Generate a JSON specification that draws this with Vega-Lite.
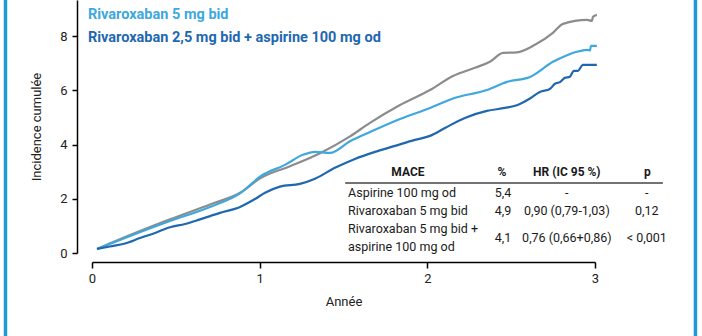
{
  "$schema": "https://vega.github.io/schema/vega-lite/v6.json",
  "width": 503,
  "height": 253,
  "autosize": {"type": "none"},
  "padding": {"left": 92, "top": 0, "right": 107, "bottom": 83},
  "background": "white",
  "config": {"view": {"stroke": null}, "font": "Roboto"},
  "datasets": {
    "curves": [
      {"series": "Aspirine 100 mg od", "t": 0.03, "v": 0.15},
      {"series": "Aspirine 100 mg od", "t": 0.227, "v": 0.66},
      {"series": "Aspirine 100 mg od", "t": 0.465, "v": 1.24},
      {"series": "Aspirine 100 mg od", "t": 0.704, "v": 1.79},
      {"series": "Aspirine 100 mg od", "t": 0.883, "v": 2.22},
      {"series": "Aspirine 100 mg od", "t": 1.008, "v": 2.77},
      {"series": "Aspirine 100 mg od", "t": 1.181, "v": 3.2},
      {"series": "Aspirine 100 mg od", "t": 1.36, "v": 3.68},
      {"series": "Aspirine 100 mg od", "t": 1.539, "v": 4.3},
      {"series": "Aspirine 100 mg od", "t": 1.658, "v": 4.8},
      {"series": "Aspirine 100 mg od", "t": 1.837, "v": 5.46},
      {"series": "Aspirine 100 mg od", "t": 2.016, "v": 6.01},
      {"series": "Aspirine 100 mg od", "t": 2.153, "v": 6.53},
      {"series": "Aspirine 100 mg od", "t": 2.284, "v": 6.83},
      {"series": "Aspirine 100 mg od", "t": 2.373, "v": 7.05},
      {"series": "Aspirine 100 mg od", "t": 2.451, "v": 7.38},
      {"series": "Aspirine 100 mg od", "t": 2.534, "v": 7.4},
      {"series": "Aspirine 100 mg od", "t": 2.642, "v": 7.68},
      {"series": "Aspirine 100 mg od", "t": 2.749, "v": 8.12},
      {"series": "Aspirine 100 mg od", "t": 2.809, "v": 8.45},
      {"series": "Aspirine 100 mg od", "t": 2.952, "v": 8.6},
      {"series": "Aspirine 100 mg od", "t": 2.982, "v": 8.56},
      {"series": "Aspirine 100 mg od", "t": 2.988, "v": 8.71},
      {"series": "Aspirine 100 mg od", "t": 3.011, "v": 8.78},
      {"series": "Rivaroxaban 5 mg bid", "t": 0.03, "v": 0.15},
      {"series": "Rivaroxaban 5 mg bid", "t": 0.227, "v": 0.63},
      {"series": "Rivaroxaban 5 mg bid", "t": 0.465, "v": 1.18},
      {"series": "Rivaroxaban 5 mg bid", "t": 0.704, "v": 1.7},
      {"series": "Rivaroxaban 5 mg bid", "t": 0.883, "v": 2.2},
      {"series": "Rivaroxaban 5 mg bid", "t": 1.008, "v": 2.84},
      {"series": "Rivaroxaban 5 mg bid", "t": 1.151, "v": 3.25},
      {"series": "Rivaroxaban 5 mg bid", "t": 1.258, "v": 3.62},
      {"series": "Rivaroxaban 5 mg bid", "t": 1.33, "v": 3.73},
      {"series": "Rivaroxaban 5 mg bid", "t": 1.419, "v": 3.69},
      {"series": "Rivaroxaban 5 mg bid", "t": 1.539, "v": 4.12},
      {"series": "Rivaroxaban 5 mg bid", "t": 1.658, "v": 4.46},
      {"series": "Rivaroxaban 5 mg bid", "t": 1.837, "v": 4.94},
      {"series": "Rivaroxaban 5 mg bid", "t": 2.016, "v": 5.35},
      {"series": "Rivaroxaban 5 mg bid", "t": 2.153, "v": 5.7},
      {"series": "Rivaroxaban 5 mg bid", "t": 2.355, "v": 6.01},
      {"series": "Rivaroxaban 5 mg bid", "t": 2.475, "v": 6.31},
      {"series": "Rivaroxaban 5 mg bid", "t": 2.612, "v": 6.49},
      {"series": "Rivaroxaban 5 mg bid", "t": 2.749, "v": 7.05},
      {"series": "Rivaroxaban 5 mg bid", "t": 2.809, "v": 7.23},
      {"series": "Rivaroxaban 5 mg bid", "t": 2.892, "v": 7.42},
      {"series": "Rivaroxaban 5 mg bid", "t": 2.952, "v": 7.49},
      {"series": "Rivaroxaban 5 mg bid", "t": 2.97, "v": 7.47},
      {"series": "Rivaroxaban 5 mg bid", "t": 2.976, "v": 7.64},
      {"series": "Rivaroxaban 5 mg bid", "t": 3.011, "v": 7.64},
      {"series": "Rivaroxaban 2,5 mg bid + aspirine 100 mg od", "t": 0.03, "v": 0.15},
      {"series": "Rivaroxaban 2,5 mg bid + aspirine 100 mg od", "t": 0.107, "v": 0.24},
      {"series": "Rivaroxaban 2,5 mg bid + aspirine 100 mg od", "t": 0.197, "v": 0.35},
      {"series": "Rivaroxaban 2,5 mg bid + aspirine 100 mg od", "t": 0.286, "v": 0.55},
      {"series": "Rivaroxaban 2,5 mg bid + aspirine 100 mg od", "t": 0.376, "v": 0.74},
      {"series": "Rivaroxaban 2,5 mg bid + aspirine 100 mg od", "t": 0.465, "v": 0.95},
      {"series": "Rivaroxaban 2,5 mg bid + aspirine 100 mg od", "t": 0.555, "v": 1.07},
      {"series": "Rivaroxaban 2,5 mg bid + aspirine 100 mg od", "t": 0.644, "v": 1.24},
      {"series": "Rivaroxaban 2,5 mg bid + aspirine 100 mg od", "t": 0.763, "v": 1.48},
      {"series": "Rivaroxaban 2,5 mg bid + aspirine 100 mg od", "t": 0.883, "v": 1.7},
      {"series": "Rivaroxaban 2,5 mg bid + aspirine 100 mg od", "t": 0.972, "v": 1.99},
      {"series": "Rivaroxaban 2,5 mg bid + aspirine 100 mg od", "t": 1.032, "v": 2.22},
      {"series": "Rivaroxaban 2,5 mg bid + aspirine 100 mg od", "t": 1.121, "v": 2.45},
      {"series": "Rivaroxaban 2,5 mg bid + aspirine 100 mg od", "t": 1.24, "v": 2.55},
      {"series": "Rivaroxaban 2,5 mg bid + aspirine 100 mg od", "t": 1.33, "v": 2.74},
      {"series": "Rivaroxaban 2,5 mg bid + aspirine 100 mg od", "t": 1.449, "v": 3.14},
      {"series": "Rivaroxaban 2,5 mg bid + aspirine 100 mg od", "t": 1.568, "v": 3.47},
      {"series": "Rivaroxaban 2,5 mg bid + aspirine 100 mg od", "t": 1.688, "v": 3.73},
      {"series": "Rivaroxaban 2,5 mg bid + aspirine 100 mg od", "t": 1.807, "v": 3.95},
      {"series": "Rivaroxaban 2,5 mg bid + aspirine 100 mg od", "t": 1.926, "v": 4.17},
      {"series": "Rivaroxaban 2,5 mg bid + aspirine 100 mg od", "t": 2.016, "v": 4.32},
      {"series": "Rivaroxaban 2,5 mg bid + aspirine 100 mg od", "t": 2.105, "v": 4.61},
      {"series": "Rivaroxaban 2,5 mg bid + aspirine 100 mg od", "t": 2.224, "v": 4.98},
      {"series": "Rivaroxaban 2,5 mg bid + aspirine 100 mg od", "t": 2.355, "v": 5.24},
      {"series": "Rivaroxaban 2,5 mg bid + aspirine 100 mg od", "t": 2.463, "v": 5.35},
      {"series": "Rivaroxaban 2,5 mg bid + aspirine 100 mg od", "t": 2.534, "v": 5.45},
      {"series": "Rivaroxaban 2,5 mg bid + aspirine 100 mg od", "t": 2.612, "v": 5.7},
      {"series": "Rivaroxaban 2,5 mg bid + aspirine 100 mg od", "t": 2.671, "v": 5.94},
      {"series": "Rivaroxaban 2,5 mg bid + aspirine 100 mg od", "t": 2.731, "v": 6.05},
      {"series": "Rivaroxaban 2,5 mg bid + aspirine 100 mg od", "t": 2.761, "v": 6.24},
      {"series": "Rivaroxaban 2,5 mg bid + aspirine 100 mg od", "t": 2.791, "v": 6.3},
      {"series": "Rivaroxaban 2,5 mg bid + aspirine 100 mg od", "t": 2.821, "v": 6.46},
      {"series": "Rivaroxaban 2,5 mg bid + aspirine 100 mg od", "t": 2.85, "v": 6.5},
      {"series": "Rivaroxaban 2,5 mg bid + aspirine 100 mg od", "t": 2.874, "v": 6.72},
      {"series": "Rivaroxaban 2,5 mg bid + aspirine 100 mg od", "t": 2.898, "v": 6.72},
      {"series": "Rivaroxaban 2,5 mg bid + aspirine 100 mg od", "t": 2.928, "v": 6.94},
      {"series": "Rivaroxaban 2,5 mg bid + aspirine 100 mg od", "t": 3.011, "v": 6.94}
    ],
    "legendRows": [
      {"series": "Rivaroxaban 5 mg bid"},
      {"series": "Rivaroxaban 2,5 mg bid + aspirine 100 mg od"}
    ],
    "table": [
      {"row": "head", "col": "MACE", "text": "MACE"},
      {"row": "head", "col": "pct", "text": "%"},
      {"row": "head", "col": "hr", "text": "HR (IC 95 %)"},
      {"row": "head", "col": "p", "text": "p"},
      {"row": "r1", "col": "label", "text": "Aspirine 100 mg od"},
      {"row": "r1", "col": "pct", "text": "5,4"},
      {"row": "r1", "col": "hr", "text": "-"},
      {"row": "r1", "col": "p", "text": "-"},
      {"row": "r2", "col": "label", "text": "Rivaroxaban 5 mg bid"},
      {"row": "r2", "col": "pct", "text": "4,9"},
      {"row": "r2", "col": "hr", "text": "0,90 (0,79-1,03)"},
      {"row": "r2", "col": "p", "text": "0,12"},
      {"row": "r3a", "col": "label", "text": "Rivaroxaban 5 mg bid +"},
      {"row": "r3b", "col": "label", "text": "aspirine 100 mg od"},
      {"row": "r3", "col": "pct", "text": "4,1"},
      {"row": "r3", "col": "hr", "text": "0,76 (0,66+0,86)"},
      {"row": "r3", "col": "p", "text": "< 0,001"}
    ]
  },
  "layer": [
    {
      "data": {"values": [{"edge": "left"}]},
      "mark": {"type": "rule", "color": "#1e9ad6", "strokeWidth": 3.5, "clip": false},
      "encoding": {
        "x": {"datum": -0.516, "type": "quantitative", "scale": {"domain": [0, 3], "nice": false}, "axis": null},
        "y": {"datum": 9.33, "type": "quantitative", "scale": {"domain": [0, 9.33], "nice": false}, "axis": null},
        "y2": {"datum": -3.1}
      }
    },
    {
      "data": {"values": [{"edge": "right"}]},
      "mark": {"type": "rule", "color": "#1e9ad6", "strokeWidth": 3.5, "clip": false},
      "encoding": {
        "x": {"datum": 3.599, "type": "quantitative", "scale": {"domain": [0, 3], "nice": false}, "axis": null},
        "y": {"datum": 9.33, "type": "quantitative", "scale": {"domain": [0, 9.33], "nice": false}, "axis": null},
        "y2": {"datum": -3.1}
      }
    },
    {
      "data": {"name": "curves"},
      "mark": {"type": "line", "strokeWidth": 2.2, "strokeJoin": "round", "interpolate": "monotone"},
      "encoding": {
        "x": {
          "field": "t", "type": "quantitative",
          "scale": {"domain": [0, 3], "nice": false},
          "axis": {
            "offset": 9, "values": [0, 1, 2, 3], "grid": false,
            "domainColor": "black", "domainWidth": 1.5, "tickColor": "black", "tickWidth": 1.5, "tickSize": 6,
            "labelFontSize": 13, "labelColor": "#222", "labelPadding": 4, "labelFlush": false,
            "title": "Année", "titleFontSize": 13, "titleFontWeight": "normal", "titleColor": "#222", "titlePadding": 10
          }
        },
        "y": {
          "field": "v", "type": "quantitative",
          "scale": {"domain": [0, 9.33], "nice": false},
          "axis": {
            "offset": 15, "values": [0, 2, 4, 6, 8], "grid": false,
            "domainColor": "black", "domainWidth": 1.5, "tickColor": "black", "tickWidth": 1.5, "tickSize": 5,
            "labelFontSize": 13, "labelColor": "#222", "labelPadding": 5, "labelFlush": false,
            "title": "Incidence cumulée", "titleFontSize": 13, "titleFontWeight": "normal", "titleColor": "#222", "titlePadding": 16
          }
        },
        "color": {
          "field": "series", "type": "nominal",
          "scale": {
            "domain": ["Aspirine 100 mg od", "Rivaroxaban 5 mg bid", "Rivaroxaban 2,5 mg bid + aspirine 100 mg od"],
            "range": ["#8c8c8c", "#3ea8de", "#1f68b0"]
          },
          "legend": null
        }
      }
    },
    {
      "data": {"values": [{"part": "header rule"}]},
      "mark": {"type": "rule", "color": "#444", "strokeWidth": 1.5, "clip": false},
      "encoding": {
        "x": {"datum": 1.51, "type": "quantitative", "scale": {"domain": [0, 3], "nice": false}, "axis": null},
        "x2": {"datum": 3.405},
        "y": {"datum": 2.58, "type": "quantitative", "scale": {"domain": [0, 9.33], "nice": false}, "axis": null}
      }
    },
    {
      "data": {"name": "legendRows"},
      "mark": {"type": "text", "align": "left", "baseline": "middle", "fontSize": 14.5, "fontWeight": "bold", "clip": false},
      "encoding": {
        "x": {"datum": -0.024, "type": "quantitative", "scale": {"domain": [0, 3], "nice": false}, "axis": null},
        "y": {"field": "series", "type": "nominal", "scale": {"type": "point", "padding": 0, "domain": ["Rivaroxaban 5 mg bid", "Rivaroxaban 2,5 mg bid + aspirine 100 mg od"], "range": [15, 38]}, "axis": null},
        "text": {"field": "series"},
        "color": {
          "field": "series", "type": "nominal",
          "scale": {
            "domain": ["Aspirine 100 mg od", "Rivaroxaban 5 mg bid", "Rivaroxaban 2,5 mg bid + aspirine 100 mg od"],
            "range": ["#8c8c8c", "#3ea8de", "#1f68b0"]
          },
          "legend": null
        }
      }
    },
    {
      "data": {"name": "table"},
      "transform": [{"filter": "datum.row === 'head' && datum.col === 'MACE'"}],
      "mark": {"type": "text", "align": "center", "baseline": "middle", "fontSize": 12, "fontWeight": "bold", "color": "#1a1a1a"},
      "encoding": {
        "x": {"datum": 1.884, "type": "quantitative", "scale": {"domain": [0, 3], "nice": false}, "axis": null},
        "y": {"datum": 2.99, "type": "quantitative", "scale": {"domain": [0, 9.33], "nice": false}, "axis": null},
        "text": {"field": "text"}
      }
    },
    {
      "data": {"name": "table"},
      "transform": [{"filter": "datum.row === 'head' && datum.col === 'pct'"}],
      "mark": {"type": "text", "align": "center", "baseline": "middle", "fontSize": 12, "fontWeight": "bold", "color": "#1a1a1a"},
      "encoding": {
        "x": {"datum": 2.445, "type": "quantitative", "scale": {"domain": [0, 3], "nice": false}, "axis": null},
        "y": {"datum": 2.99, "type": "quantitative", "scale": {"domain": [0, 9.33], "nice": false}, "axis": null},
        "text": {"field": "text"}
      }
    },
    {
      "data": {"name": "table"},
      "transform": [{"filter": "datum.row === 'head' && datum.col === 'hr'"}],
      "mark": {"type": "text", "align": "center", "baseline": "middle", "fontSize": 12, "fontWeight": "bold", "color": "#1a1a1a"},
      "encoding": {
        "x": {"datum": 2.832, "type": "quantitative", "scale": {"domain": [0, 3], "nice": false}, "axis": null},
        "y": {"datum": 2.99, "type": "quantitative", "scale": {"domain": [0, 9.33], "nice": false}, "axis": null},
        "text": {"field": "text"}
      }
    },
    {
      "data": {"name": "table"},
      "transform": [{"filter": "datum.row === 'head' && datum.col === 'p'"}],
      "mark": {"type": "text", "align": "center", "baseline": "middle", "fontSize": 12, "fontWeight": "bold", "color": "#1a1a1a"},
      "encoding": {
        "x": {"datum": 3.312, "type": "quantitative", "scale": {"domain": [0, 3], "nice": false}, "axis": null},
        "y": {"datum": 2.99, "type": "quantitative", "scale": {"domain": [0, 9.33], "nice": false}, "axis": null},
        "text": {"field": "text"}
      }
    },
    {
      "data": {"name": "table"},
      "transform": [{"filter": "datum.col === 'label'"}],
      "mark": {"type": "text", "align": "left", "baseline": "middle", "fontSize": 12.5, "color": "#1a1a1a"},
      "encoding": {
        "x": {"datum": 1.527, "type": "quantitative", "scale": {"domain": [0, 3], "nice": false}, "axis": null},
        "y": {"field": "row", "type": "nominal", "scale": {"type": "point", "padding": 0, "domain": ["r1", "r2", "r3a", "r3b"], "range": [193, 247]}, "axis": null},
        "text": {"field": "text"}
      }
    },
    {
      "data": {"name": "table"},
      "transform": [{"filter": "datum.col === 'pct' && datum.row !== 'head' && datum.row !== 'r3'"}],
      "mark": {"type": "text", "align": "center", "baseline": "middle", "fontSize": 12.5, "color": "#1a1a1a"},
      "encoding": {
        "x": {"datum": 2.451, "type": "quantitative", "scale": {"domain": [0, 3], "nice": false}, "axis": null},
        "y": {"field": "row", "type": "nominal", "scale": {"type": "point", "padding": 0, "domain": ["r1", "r2"], "range": [193, 211]}, "axis": null},
        "text": {"field": "text"}
      }
    },
    {
      "data": {"name": "table"},
      "transform": [{"filter": "datum.col === 'hr' && datum.row !== 'head' && datum.row !== 'r3'"}],
      "mark": {"type": "text", "align": "center", "baseline": "middle", "fontSize": 12.5, "color": "#1a1a1a"},
      "encoding": {
        "x": {"datum": 2.832, "type": "quantitative", "scale": {"domain": [0, 3], "nice": false}, "axis": null},
        "y": {"field": "row", "type": "nominal", "scale": {"type": "point", "padding": 0, "domain": ["r1", "r2"], "range": [193, 211]}, "axis": null},
        "text": {"field": "text"}
      }
    },
    {
      "data": {"name": "table"},
      "transform": [{"filter": "datum.col === 'p' && datum.row !== 'head' && datum.row !== 'r3'"}],
      "mark": {"type": "text", "align": "center", "baseline": "middle", "fontSize": 12.5, "color": "#1a1a1a"},
      "encoding": {
        "x": {"datum": 3.309, "type": "quantitative", "scale": {"domain": [0, 3], "nice": false}, "axis": null},
        "y": {"field": "row", "type": "nominal", "scale": {"type": "point", "padding": 0, "domain": ["r1", "r2"], "range": [193, 211]}, "axis": null},
        "text": {"field": "text"}
      }
    },
    {
      "data": {"name": "table"},
      "transform": [{"filter": "datum.col === 'pct' && datum.row === 'r3'"}],
      "mark": {"type": "text", "align": "center", "baseline": "middle", "fontSize": 12.5, "color": "#1a1a1a"},
      "encoding": {
        "x": {"datum": 2.451, "type": "quantitative", "scale": {"domain": [0, 3], "nice": false}, "axis": null},
        "y": {"datum": 0.554, "type": "quantitative", "scale": {"domain": [0, 9.33], "nice": false}, "axis": null},
        "text": {"field": "text"}
      }
    },
    {
      "data": {"name": "table"},
      "transform": [{"filter": "datum.col === 'hr' && datum.row === 'r3'"}],
      "mark": {"type": "text", "align": "center", "baseline": "middle", "fontSize": 12.5, "color": "#1a1a1a"},
      "encoding": {
        "x": {"datum": 2.832, "type": "quantitative", "scale": {"domain": [0, 3], "nice": false}, "axis": null},
        "y": {"datum": 0.554, "type": "quantitative", "scale": {"domain": [0, 9.33], "nice": false}, "axis": null},
        "text": {"field": "text"}
      }
    },
    {
      "data": {"name": "table"},
      "transform": [{"filter": "datum.col === 'p' && datum.row === 'r3'"}],
      "mark": {"type": "text", "align": "center", "baseline": "middle", "fontSize": 12.5, "color": "#1a1a1a"},
      "encoding": {
        "x": {"datum": 3.309, "type": "quantitative", "scale": {"domain": [0, 3], "nice": false}, "axis": null},
        "y": {"datum": 0.554, "type": "quantitative", "scale": {"domain": [0, 9.33], "nice": false}, "axis": null},
        "text": {"field": "text"}
      }
    }
  ],
  "resolve": {"scale": {"x": "independent", "y": "independent"}}
}
